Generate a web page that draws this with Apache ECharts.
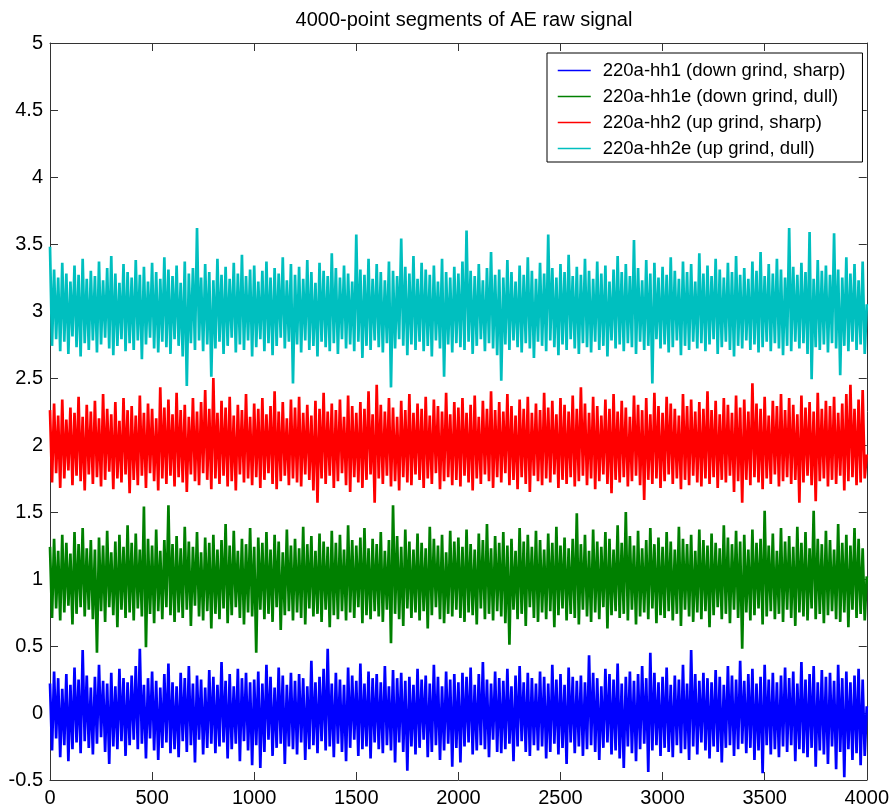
<!DOCTYPE html>
<html><head><meta charset="utf-8">
<script src="https://cdn.jsdelivr.net/npm/echarts@6/dist/echarts.min.js"></script>
<style>html,body{margin:0;padding:0;background:#fff}#c{width:892px;height:810px}</style>
</head><body><div id="c"></div><script>
const TITLE = '4000-point segments of AE raw signal';
const seriesNames = ['220a-hh1 (down grind, sharp)','220a-hh1e (down grind, dull)','220a-hh2 (up grind, sharp)','220a-hh2e (up grind, dull)'];
const seriesColors = ['#0000ff','#008000','#ff0000','#00bfbf'];
const SAMPLES = 4000;

// hh1 (blue) – readings every 10 samples
const hh1 = [
0.22,-0.28,0.31,-0.19,0.26,-0.33,0.18,-0.24,0.29,-0.36,0.21,-0.27,0.34,-0.22,0.25,-0.30,0.47,-0.21,0.28,-0.26,
0.19,-0.31,0.27,-0.23,0.36,-0.18,0.24,-0.29,0.22,-0.38,0.30,-0.25,0.20,-0.27,0.33,-0.21,0.26,-0.32,0.23,-0.24,
0.28,-0.20,0.35,-0.27,0.48,-0.23,0.21,-0.34,0.26,-0.19,0.31,-0.28,0.24,-0.35,0.19,-0.26,0.29,-0.22,0.37,-0.30,
0.23,-0.27,0.20,-0.33,0.30,-0.21,0.26,-0.29,0.35,-0.24,0.22,-0.37,0.28,-0.20,0.25,-0.31,0.19,-0.26,0.32,-0.23,
0.27,-0.30,0.21,-0.25,0.38,-0.22,0.24,-0.34,0.29,-0.27,0.20,-0.23,0.33,-0.36,0.26,-0.21,0.30,-0.28,0.23,-0.39,
0.25,-0.24,0.31,-0.41,0.22,-0.29,0.36,-0.20,0.27,-0.32,0.19,-0.26,0.34,-0.23,0.28,-0.38,0.21,-0.25,0.30,-0.27,
0.24,-0.31,0.29,-0.22,0.26,-0.35,0.20,-0.27,0.39,-0.24,0.23,-0.30,0.27,-0.21,0.33,-0.28,0.48,-0.25,0.22,-0.33,
0.30,-0.23,0.25,-0.29,0.21,-0.36,0.34,-0.26,0.28,-0.20,0.24,-0.32,0.37,-0.27,0.22,-0.25,0.31,-0.34,0.26,-0.22,
0.29,-0.27,0.23,-0.30,0.35,-0.24,0.20,-0.28,0.32,-0.37,0.26,-0.22,0.30,-0.29,0.24,-0.43,0.27,-0.25,0.21,-0.31,
0.33,-0.26,0.25,-0.20,0.28,-0.33,0.22,-0.29,0.36,-0.24,0.27,-0.35,0.20,-0.28,0.31,-0.23,0.25,-0.40,0.29,-0.26,
0.23,-0.37,0.30,-0.25,0.27,-0.22,0.34,-0.31,0.21,-0.28,0.29,-0.24,0.38,-0.27,0.25,-0.33,0.22,-0.20,0.31,-0.29,
0.26,-0.30,0.24,-0.27,0.33,-0.23,0.20,-0.36,0.28,-0.25,0.35,-0.21,0.23,-0.29,0.30,-0.32,0.26,-0.24,0.22,-0.28,
0.31,-0.25,0.27,-0.34,0.22,-0.29,0.36,-0.23,0.25,-0.31,0.29,-0.26,0.21,-0.38,0.34,-0.22,0.27,-0.30,0.24,-0.25,
0.28,-0.32,0.23,-0.27,0.43,-0.24,0.30,-0.29,0.26,-0.35,0.20,-0.26,0.33,-0.22,0.29,-0.31,0.25,-0.28,0.37,-0.34,
0.22,-0.41,0.27,-0.25,0.31,-0.30,0.24,-0.36,0.29,-0.27,0.35,-0.23,0.26,-0.44,0.45,-0.28,0.30,-0.24,0.23,-0.32,
0.27,-0.26,0.34,-0.29,0.21,-0.33,0.28,-0.24,0.25,-0.30,0.36,-0.27,0.22,-0.35,0.47,-0.25,0.29,-0.31,0.24,-0.22,
0.30,-0.28,0.26,-0.34,0.23,-0.25,0.32,-0.29,0.27,-0.37,0.21,-0.26,0.35,-0.24,0.28,-0.32,0.25,-0.27,0.39,-0.23,
0.24,-0.30,0.29,-0.26,0.33,-0.35,0.22,-0.28,0.27,-0.45,0.36,-0.24,0.25,-0.31,0.30,-0.27,0.23,-0.33,0.28,-0.25,
0.34,-0.29,0.26,-0.24,0.31,-0.36,0.22,-0.27,0.38,-0.30,0.25,-0.33,0.29,-0.26,0.35,-0.40,0.23,-0.28,0.32,-0.31,
0.27,-0.38,0.30,-0.25,0.24,-0.42,0.36,-0.29,0.26,-0.48,0.31,-0.27,0.23,-0.35,0.28,-0.30,0.33,-0.39,0.25,-0.32,
0.05];

// hh1e (green)
const hh1e = [
1.24,0.71,1.30,0.78,1.21,0.69,1.33,0.75,1.27,0.80,1.19,0.66,1.35,0.74,1.26,0.79,1.38,0.72,1.23,0.77,
1.29,0.70,1.22,0.45,1.31,0.76,1.25,0.68,1.36,0.79,1.20,0.73,1.28,0.64,1.33,0.77,1.24,0.71,1.40,0.75,
1.27,0.69,1.34,0.78,1.22,0.72,1.54,0.49,1.30,0.74,1.25,0.67,1.37,0.76,1.21,0.70,1.29,0.79,1.55,0.73,
1.26,0.68,1.32,0.75,1.23,0.71,1.39,0.77,1.28,0.65,1.24,0.80,1.35,0.72,1.20,0.69,1.31,0.76,1.27,0.63,
1.33,0.74,1.22,0.70,1.29,0.78,1.41,0.67,1.25,0.73,1.36,0.79,1.21,0.71,1.30,0.66,1.26,0.75,1.38,0.72,
1.24,0.45,1.31,0.77,1.27,0.70,1.35,0.74,1.22,0.68,1.33,0.79,1.28,0.62,1.20,0.73,1.37,0.76,1.25,0.69,
1.30,0.75,1.23,0.71,1.39,0.66,1.26,0.78,1.32,0.72,1.21,0.74,1.34,0.68,1.28,0.77,1.24,0.64,1.36,0.73,
1.27,0.70,1.33,0.76,1.22,0.69,1.40,0.75,1.29,0.71,1.25,0.79,1.31,0.67,1.38,0.73,1.23,0.70,1.30,0.76,
1.26,0.72,1.35,0.68,1.21,0.77,1.29,0.52,1.55,0.74,1.32,0.70,1.24,0.65,1.37,0.78,1.28,0.71,1.22,0.75,
1.34,0.69,1.27,0.76,1.23,0.63,1.39,0.73,1.30,0.79,1.25,0.70,1.33,0.67,1.20,0.74,1.36,0.72,1.28,0.77,
1.31,0.71,1.24,0.68,1.37,0.75,1.26,0.73,1.22,0.66,1.34,0.78,1.29,0.70,1.41,0.74,1.23,0.69,1.32,0.76,
1.27,0.72,1.35,0.67,1.25,0.51,1.30,0.77,1.21,0.70,1.38,0.74,1.28,0.65,1.33,0.79,1.24,0.71,1.36,0.68,
1.29,0.75,1.22,0.70,1.34,0.76,1.27,0.64,1.39,0.73,1.25,0.78,1.31,0.69,1.23,0.74,1.30,0.71,1.49,0.66,
1.26,0.77,1.33,0.72,1.21,0.68,1.37,0.75,1.28,0.70,1.24,0.79,1.35,0.63,1.30,0.73,1.22,0.76,1.40,0.71,
1.27,0.74,1.50,0.69,1.32,0.77,1.25,0.66,1.36,0.72,1.23,0.75,1.29,0.70,1.38,0.78,1.26,0.67,1.31,0.73,
1.24,0.71,1.35,0.76,1.28,0.69,1.22,0.74,1.39,0.65,1.30,0.77,1.26,0.72,1.33,0.68,1.21,0.75,1.37,0.70,
1.29,0.76,1.25,0.64,1.34,0.73,1.27,0.79,1.23,0.70,1.40,0.74,1.31,0.67,1.26,0.77,1.36,0.71,1.28,0.48,
1.33,0.75,1.22,0.69,1.37,0.73,1.27,0.78,1.30,0.66,1.51,0.72,1.25,0.76,1.34,0.70,1.21,0.74,1.38,0.68,
1.28,0.77,1.32,0.71,1.24,0.65,1.39,0.75,1.27,0.72,1.35,0.69,1.23,0.78,1.51,0.70,1.30,0.74,1.26,0.67,
1.36,0.73,1.29,0.76,1.22,0.70,1.41,0.68,1.27,0.75,1.33,0.64,1.25,0.77,1.38,0.71,1.30,0.74,1.23,0.69,
1.02];

// hh2 (red)
const hh2 = [
2.26,1.72,2.31,1.79,2.22,1.68,2.34,1.75,2.19,1.81,2.28,1.70,2.24,1.77,2.36,1.73,2.21,1.66,2.30,1.78,
2.25,1.71,2.33,1.76,2.20,1.69,2.38,1.74,2.27,1.80,2.23,1.67,2.32,1.75,2.18,1.72,2.35,1.78,2.26,1.64,
2.29,1.74,2.22,1.70,2.37,1.77,2.24,1.68,2.31,1.79,2.27,1.73,2.20,1.66,2.43,1.75,2.28,1.71,2.34,1.77,
2.23,1.69,2.39,1.76,2.26,1.72,2.30,1.65,2.21,1.78,2.35,1.73,2.25,1.70,2.32,1.79,2.41,1.74,2.27,1.67,
2.50,1.75,2.24,1.71,2.33,1.77,2.28,1.69,2.36,1.73,2.22,1.66,2.30,1.78,2.26,1.72,2.38,1.75,2.21,1.70,
2.31,1.76,2.27,1.68,2.35,1.74,2.23,1.79,2.29,1.71,2.40,1.67,2.25,1.73,2.32,1.77,2.20,1.70,2.34,1.75,
2.28,1.72,2.36,1.69,2.24,1.78,2.30,1.74,2.22,1.66,2.33,1.57,2.27,1.75,2.39,1.71,2.25,1.77,2.31,1.68,
2.26,1.73,2.34,1.79,2.21,1.70,2.37,1.65,2.29,1.76,2.24,1.72,2.32,1.68,2.27,1.74,2.40,1.78,2.23,1.57,
2.45,1.75,2.30,1.71,2.25,1.77,2.35,1.69,2.28,1.73,2.21,1.66,2.33,1.76,2.26,1.72,2.38,1.70,2.24,1.78,
2.31,1.74,2.27,1.68,2.36,1.75,2.22,1.71,2.34,1.79,2.29,1.67,2.25,1.73,2.39,1.76,2.23,1.70,2.32,1.74,
2.28,1.69,2.35,1.77,2.24,1.72,2.30,1.66,2.37,1.75,2.21,1.71,2.33,1.78,2.27,1.73,2.40,1.68,2.26,1.76,
2.32,1.72,2.25,1.79,2.38,1.70,2.29,1.74,2.22,1.67,2.34,1.76,2.27,1.71,2.36,1.65,2.24,1.77,2.31,1.73,
2.26,1.70,2.39,1.75,2.28,1.72,2.33,1.78,2.23,1.68,2.35,1.74,2.30,1.71,2.25,1.76,2.37,1.69,2.27,1.73,
2.43,1.77,2.31,1.70,2.24,1.75,2.36,1.67,2.29,1.73,2.22,1.78,2.34,1.71,2.27,1.64,2.38,1.74,2.25,1.72,
2.33,1.76,2.28,1.69,2.21,1.73,2.37,1.77,2.30,1.70,2.26,1.59,2.35,1.74,2.23,1.71,2.39,1.75,2.29,1.68,
2.24,1.73,2.36,1.78,2.31,1.71,2.27,1.75,2.22,1.67,2.38,1.74,2.29,1.70,2.34,1.77,2.25,1.72,2.32,1.69,
2.27,1.75,2.40,1.71,2.26,1.76,2.33,1.68,2.23,1.74,2.35,1.72,2.30,1.77,2.24,1.65,2.37,1.73,2.28,1.57,
2.34,1.74,2.25,1.70,2.46,1.76,2.31,1.72,2.27,1.67,2.36,1.75,2.22,1.71,2.33,1.78,2.29,1.69,2.38,1.73,
2.26,1.76,2.35,1.71,2.30,1.74,2.23,1.57,2.37,1.72,2.28,1.77,2.32,1.70,2.25,1.58,2.39,1.73,2.27,1.75,
2.33,1.69,2.29,1.74,2.36,1.71,2.24,1.77,2.31,1.66,2.38,1.73,2.45,1.76,2.27,1.70,2.34,1.72,2.41,1.75,
1.93];

// hh2e (cyan)
const hh2e = [
3.48,2.74,3.31,2.79,3.25,2.70,3.36,2.77,3.28,2.68,3.22,2.81,3.34,2.73,3.27,2.66,3.39,2.76,3.24,2.71,
3.30,2.78,3.26,2.69,3.37,2.75,3.23,2.80,3.32,2.72,3.41,2.67,3.28,2.74,3.21,2.79,3.35,2.70,3.29,2.76,
3.25,2.71,3.38,2.78,3.27,2.64,3.33,2.75,3.22,2.80,3.36,2.72,3.29,2.69,3.24,2.77,3.40,2.73,3.31,2.68,
3.26,2.79,3.34,2.74,3.21,2.66,3.37,2.44,3.28,2.76,3.32,2.71,3.62,2.78,3.25,2.70,3.35,2.75,3.29,2.51,
3.23,2.72,3.39,2.77,3.27,2.68,3.33,2.74,3.24,2.80,3.36,2.69,3.28,2.75,3.42,2.71,3.26,2.78,3.31,2.66,
3.34,2.73,3.22,2.79,3.30,2.70,3.37,2.76,3.25,2.67,3.32,2.74,3.28,2.80,3.40,2.72,3.23,2.77,3.35,2.46,
3.27,2.75,3.33,2.69,3.24,2.78,3.38,2.71,3.29,2.74,3.21,2.66,3.36,2.77,3.30,2.73,3.26,2.70,3.43,2.76,
3.32,2.68,3.25,2.79,3.34,2.72,3.28,2.75,3.22,2.70,3.57,2.77,3.31,2.65,3.27,2.74,3.39,2.71,3.24,2.78,
3.35,2.73,3.29,2.69,3.23,2.76,3.37,2.43,3.30,2.72,3.26,2.79,3.54,2.74,3.33,2.67,3.28,2.75,3.41,2.71,
3.24,2.77,3.36,2.70,3.31,2.74,3.27,2.66,3.34,2.78,3.22,2.72,3.39,2.51,3.29,2.75,3.25,2.69,3.33,2.76,
3.28,2.73,3.37,2.71,3.60,2.77,3.30,2.68,3.26,2.74,3.35,2.79,3.23,2.70,3.32,2.76,3.44,2.72,3.27,2.67,
3.31,2.48,3.25,2.75,3.38,2.71,3.29,2.78,3.22,2.73,3.34,2.69,3.27,2.76,3.40,2.72,3.30,2.65,3.24,2.77,
3.36,2.74,3.28,2.70,3.57,2.78,3.32,2.73,3.25,2.67,3.35,2.75,3.29,2.71,3.42,2.79,3.26,2.72,3.33,2.68,
3.27,2.76,3.39,2.73,3.30,2.69,3.24,2.77,3.37,2.71,3.28,2.74,3.34,2.66,3.22,2.78,3.31,2.72,3.41,2.75,
3.29,2.70,3.35,2.76,3.26,2.73,3.53,2.68,3.32,2.77,3.23,2.71,3.38,2.74,3.28,2.46,3.36,2.79,3.25,2.72,
3.33,2.75,3.27,2.69,3.40,2.73,3.30,2.78,3.24,2.67,3.37,2.74,3.29,2.71,3.35,2.77,3.22,2.72,3.43,2.76,
3.28,2.70,3.34,2.75,3.26,2.79,3.39,2.68,3.31,2.73,3.25,2.77,3.36,2.71,3.29,2.66,3.41,2.74,3.27,2.72,
3.32,2.78,3.24,2.71,3.37,2.75,3.30,2.69,3.44,2.73,3.26,2.77,3.35,2.70,3.28,2.76,3.39,2.72,3.31,2.67,
3.25,2.74,3.62,2.70,3.33,2.77,3.27,2.72,3.36,2.76,3.29,2.68,3.59,2.49,3.24,2.73,3.38,2.71,3.30,2.75,
3.34,2.69,3.27,2.76,3.58,2.72,3.31,2.52,3.25,2.74,3.40,2.70,3.28,2.77,3.35,2.71,3.23,2.75,3.37,2.68,
3.05];

const allSeries = [hh1, hh1e, hh2, hh2e];
const FONT = "'Liberation Sans',Arial,Helvetica,sans-serif";

function toPairs(arr) {
  const n = arr.length;
  return arr.map((v, i) => [i * SAMPLES / (n - 1), v]);
}

const chart = echarts.init(document.getElementById('c'), null, {renderer: 'canvas'});
const axisCommon = {
  axisLine: {show: true, onZero: false, lineStyle: {color: '#333', width: 1}},
  axisTick: {show: true, inside: true, length: 8, lineStyle: {color: '#333'}},
  splitLine: {show: false}
};
chart.setOption({
  animation: false,
  backgroundColor: '#fff',
  title: {
    text: TITLE, left: 459, top: 5, textAlign: 'center',
    textStyle: {fontFamily: FONT, fontSize: 20, fontWeight: 'normal', color: '#000'}
  },
  grid: {left: 50, right: 23, top: 43, bottom: 30, containLabel: false},
  legend: {
    data: seriesNames, orient: 'vertical', left: 547, top: 53,
    padding: [8, 17, 4, 10], itemWidth: 33, itemHeight: 14, itemGap: 7,
    backgroundColor: '#fff', borderColor: '#000', borderWidth: 1,
    textStyle: {fontFamily: FONT, fontSize: 18.5, color: '#000', padding: [0, 0, 0, 7]},
    itemStyle: {opacity: 0}, lineStyle: {width: 1.5}
  },
  xAxis: [
    Object.assign({type: 'value', min: 0, max: 4000, interval: 500, position: 'bottom',
      axisLabel: {fontFamily: FONT, fontSize: 20, color: '#000', margin: 8, formatter: v => String(v)}}, axisCommon),
    Object.assign({type: 'value', min: 0, max: 4000, interval: 500, position: 'top',
      axisLabel: {show: false}}, axisCommon)
  ],
  yAxis: [
    Object.assign({type: 'value', min: -0.5, max: 5, interval: 0.5, position: 'left',
      axisLabel: {fontFamily: FONT, fontSize: 20, color: '#000', margin: 7, formatter: v => String(v)}}, axisCommon),
    Object.assign({type: 'value', min: -0.5, max: 5, interval: 0.5, position: 'right',
      axisLabel: {show: false}}, axisCommon)
  ],
  series: allSeries.map((arr, k) => ({
    name: seriesNames[k], type: 'line', data: toPairs(arr),
    xAxisIndex: 0, yAxisIndex: 0,
    symbol: 'none', showSymbol: false, sampling: null,
    lineStyle: {color: seriesColors[k], width: 2.7, join: 'miter', miterLimit: 2},
    itemStyle: {color: seriesColors[k]},
    z: 2 + k
  }))
});
</script></body></html>
